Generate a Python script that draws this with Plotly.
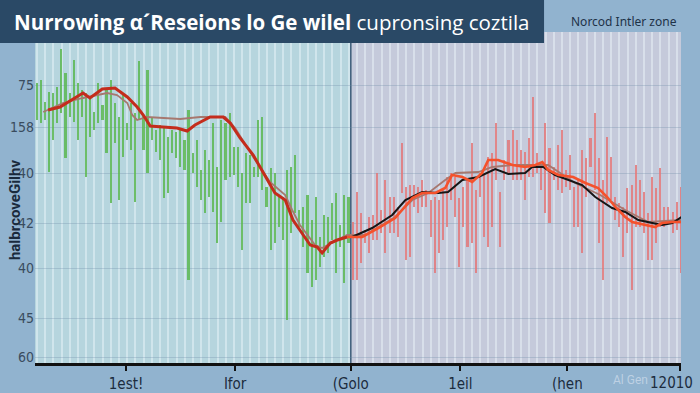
import plotly.graph_objects as go

# ---------------- data ----------------
# high/low ranges per period (green = first zone, red = second zone)
green_low = [243, 240, 243, 191, 223, 240, 250, 205, 246, 241, 223, 246, 186, 226, 233, 240,
             243, 210, 160, 220, 163, 206, 223, 213, 161, 243, 213, 190, 223, 211, 203, 165,
             170, 210, 205, 196, 193, 83, 190, 176, 163, 150, 166, 151, 120, 141, 183, 186,
             188, 176, 113, 160, 160, 186, 186, 173, 156, 113, 120, 136, 123, 43, 130, 150,
             136, 116, 90, 76, 83, 96, 106, 110, 123, 90, 116, 80, 120]
green_high = [280, 283, 261, 271, 270, 276, 314, 290, 270, 303, 280, 273, 270, 265, 251, 280,
              258, 273, 283, 260, 246, 270, 240, 260, 250, 302, 248, 293, 246, 233, 238, 235,
              226, 233, 231, 233, 223, 253, 210, 223, 193, 213, 203, 240, 196, 243, 240, 250,
              216, 216, 190, 210, 208, 196, 243, 246, 176, 195, 190, 166, 166, 193, 196, 208,
              153, 156, 168, 143, 166, 126, 148, 146, 160, 170, 138, 168, 166]
red_low = [83, 83, 100, 120, 110, 123, 123, 130, 110, 130, 130, 126, 170, 103, 106, 156,
           150, 156, 156, 126, 90, 110, 123, 136, 163, 146, 96, 136, 116, 120, 90, 166,
           126, 116, 136, 183, 116, 183, 190, 183, 183, 183, 163, 186, 186, 190, 173, 150,
           140, 183, 173, 170, 176, 173, 136, 136, 110, 166, 196, 173, 120, 83, 160, 163,
           143, 136, 106, 130, 73, 136, 136, 130, 103, 103, 120, 136, 136, 143, 130, 133, 90]
red_high = [141, 171, 150, 133, 146, 148, 190, 153, 183, 166, 166, 156, 220, 176, 178, 178,
            176, 183, 173, 163, 166, 163, 173, 186, 190, 186, 165, 176, 183, 220, 173, 190,
            190, 206, 210, 240, 171, 203, 223, 233, 223, 213, 211, 225, 266, 210, 196, 240,
            215, 196, 218, 233, 193, 208, 176, 183, 213, 205, 225, 250, 205, 183, 226, 206,
            166, 160, 156, 175, 178, 198, 183, 171, 150, 186, 175, 195, 156, 156, 151, 161, 176]

# trend lines: period position and level
red_x = [2.7, 5.6, 11.2, 12.9, 15.9, 19.0, 22.0, 24.4, 25.9, 27.6, 30.7, 34.1, 36.6, 38.5, 42.2,
         45.4, 47.1, 49.5, 52.7, 56.1, 58.0, 60.5, 62.4, 64.9, 66.6, 68.3, 69.5, 71.5, 73.2, 75.6,
         79.3, 83.2, 87.3, 91.5, 93.9, 97.1, 99.5, 101.2, 103.7, 106.1, 108.5, 110.0, 112.4, 115.9,
         119.0, 121.5, 123.2, 124.6, 127.1, 130.7, 133.7, 136.8, 139.0, 141.0, 143.4, 145.1, 148.3,
         150.7, 152.4, 154.9, 157.1]
red_y = [253, 256, 270, 265, 274, 275, 266, 256, 248, 237, 236, 235, 232, 238, 246,
         246, 240, 225, 208, 183, 170, 163, 143, 128, 118, 116, 110, 120, 123, 126,
         126, 135, 145, 165, 170, 170, 175, 188, 186, 181, 190, 203, 203, 198,
         196, 198, 201, 193, 188, 186, 180, 175, 166, 156, 146, 141, 138,
         136, 140, 141, 141]
black_x = [76.8, 81.7, 86.6, 89.8, 93.9, 97.8, 100.2, 103.7, 107.6, 111.7, 114.9, 119.0, 120.7,
           123.4, 126.3, 129.5, 132.9, 136.1, 140.2, 143.4, 146.6, 150.0, 152.4, 154.9, 157.1]
black_y = [126, 135, 148, 163, 171, 170, 171, 183, 186, 194, 189, 190, 196,
           196, 188, 183, 178, 166, 155, 151, 143, 140, 138, 140, 146]
brown_x = [1.5, 6.3, 11.2, 17.1, 19.5, 22.0, 23.2, 24.4, 26.8, 30.7, 34.9, 39.8, 42.7, 45.9, 48.3,
           52.7, 56.8, 60.5, 62.2, 64.1, 67.8, 69.5, 72.2, 75.6, 80.0, 87.3, 91.5, 95.4, 99.5,
           102.0, 107.6, 111.0, 115.9, 124.6, 131.2, 137.3, 143.4, 149.0, 157.1]
brown_y = [251, 260, 265, 270, 268, 260, 248, 243, 246, 245, 244, 246, 246, 246, 235,
           206, 181, 168, 153, 138, 118, 115, 121, 128, 128, 146, 163, 170, 183,
           190, 191, 196, 198, 198, 180, 168, 153, 141, 143]

x_tick_pos = [21.7, 48.3, 76.5, 103.2, 129.3, 156.8]
x_tick_text = ["1est!", "Ifor", "(Golo", "1eil", "(hen", "12010"]
y_tick_pos = [278, 236, 190, 140, 95, 45, 6]
y_tick_text = ["75", "158", "40", "42", "40", "45", "60"]

title_bold = "Nurrowing α´Reseions lo Ge wilel"
title_rest = "cupronsing coztila"
zone_label = "Norcod Intler zone"
y_title = "halbrcoveGilhv"
watermark = "Al Gen"

# ---------------- figure ----------------
n_g = len(green_low)
n_r = len(red_low)
gx = list(range(n_g))
rx = list(range(n_g, n_g + n_r))
split = n_g - 0.5
x_end = n_g + n_r - 1.0

narrow = "Liberation Sans Narrow, DejaVu Sans Condensed, Roboto, sans-serif"
tick_font = dict(family=narrow, size=15, color="#1c2c3e")

fig = go.Figure()
fig.add_trace(go.Bar(x=gx, base=green_low, y=[h - l for h, l in zip(green_high, green_low)],
                     width=0.4, marker=dict(color="#5cb852", line=dict(width=0)),
                     opacity=0.85, showlegend=False))
fig.add_trace(go.Bar(x=rx, base=red_low, y=[h - l for h, l in zip(red_high, red_low)],
                     width=0.38, marker=dict(color="#e3787a", line=dict(width=0)),
                     opacity=0.85, showlegend=False))

fig.add_trace(go.Scatter(x=brown_x, y=brown_y, mode="lines",
                         line=dict(color="#a7786f", width=1.8), showlegend=False))
fig.add_trace(go.Scatter(x=black_x, y=black_y, mode="lines",
                         line=dict(color="#151515", width=2), showlegend=False))

left_x = [x for x in red_x if x <= split + 1]
left_y = red_y[:len(left_x)]
right_x = red_x[len(left_x) - 1:]
right_y = red_y[len(left_x) - 1:]
fig.add_trace(go.Scatter(x=left_x, y=left_y, mode="lines",
                         line=dict(color="#c42c1c", width=3), showlegend=False))
fig.add_trace(go.Scatter(x=right_x, y=right_y, mode="lines",
                         line=dict(color="#f4522c", width=2.6), showlegend=False))

shapes = [
    dict(type="rect", xref="x", yref="paper", x0=-0.5, x1=split, y0=0, y1=1,
         fillcolor="#b6d5de", line=dict(width=0), layer="below"),
    dict(type="rect", xref="x", yref="paper", x0=split, x1=x_end + 0.5, y0=0, y1=1,
         fillcolor="#c5cadb", line=dict(width=0), layer="below"),
    dict(type="line", xref="x", yref="paper", x0=split, x1=split, y0=0, y1=1,
         line=dict(color="#3d5c78", width=1.5), layer="between"),
    dict(type="rect", xref="paper", yref="paper", x0=-0.06, x1=0.788, y0=0.967, y1=1.1,
         fillcolor="#2a4966", line=dict(width=0), layer="above"),
]

annotations = [
    dict(xref="paper", yref="paper", x=-0.036, y=1.031, xanchor="left", yanchor="middle",
         text=f"<b>{title_bold}</b> {title_rest}", showarrow=False,
         font=dict(family="Open Sans, Noto Sans, sans-serif", size=20.5, color="#ffffff")),
    dict(xref="paper", yref="paper", x=0.912, y=1.031, xanchor="center", yanchor="middle",
         text=zone_label, showarrow=False,
         font=dict(family="Noto Sans, sans-serif", size=12, color="#1e3248")),
    dict(xref="paper", yref="paper", x=-0.031, y=0.465, xanchor="center", yanchor="middle",
         text=f"<b>{y_title}</b>", textangle=-90, showarrow=False,
         font=dict(family="Roboto, sans-serif", size=15, color="#1a2a3c")),
    dict(xref="paper", yref="paper", x=0.922, y=-0.052, xanchor="center", yanchor="middle",
         text=watermark, showarrow=False,
         font=dict(family="Roboto, sans-serif", size=12, color="rgba(205,220,235,0.75)")),
    # last tick label, kept inside the page edge
    dict(xref="paper", yref="paper", x=1.021, y=-0.026, xanchor="right", yanchor="top",
         text=x_tick_text[-1], showarrow=False, font=tick_font),
]

fig.update_layout(
    width=700, height=393,
    margin=dict(l=35, r=19, t=32, b=30),
    paper_bgcolor="#91b3cf",
    plot_bgcolor="#b6d5de",
    barmode="overlay",
    bargap=0,
    shapes=shapes,
    annotations=annotations,
    xaxis=dict(range=[-0.5, x_end], tickmode="array", tickvals=x_tick_pos,
               ticktext=x_tick_text[:-1] + [""],
               automargin=False, ticklabeloverflow="allow",
               showgrid=False, zeroline=False, showline=True, linecolor="#111111", linewidth=2.5,
               ticks="outside", ticklen=5, tickwidth=2, tickcolor="#111111",
               tickfont=tick_font,
               minor=dict(dtick=2, tick0=0, showgrid=True, gridcolor="rgba(240,248,252,0.45)",
                          gridwidth=2, ticks="")),
    yaxis=dict(range=[0, 331], tickmode="array", tickvals=y_tick_pos, ticktext=y_tick_text,
               automargin=False,
               showgrid=True, gridcolor="rgba(110,140,165,0.3)", gridwidth=1, zeroline=False,
               showline=False, ticks="", ticklabelstandoff=0,
               tickfont=dict(family=narrow, size=14, color="#3a4c5e")),
)

fig.write_html(
    "out.html",
    config={"displayModeBar": False},
    post_script="document.body.style.margin='0';document.body.style.background='#91b3cf';",
)
